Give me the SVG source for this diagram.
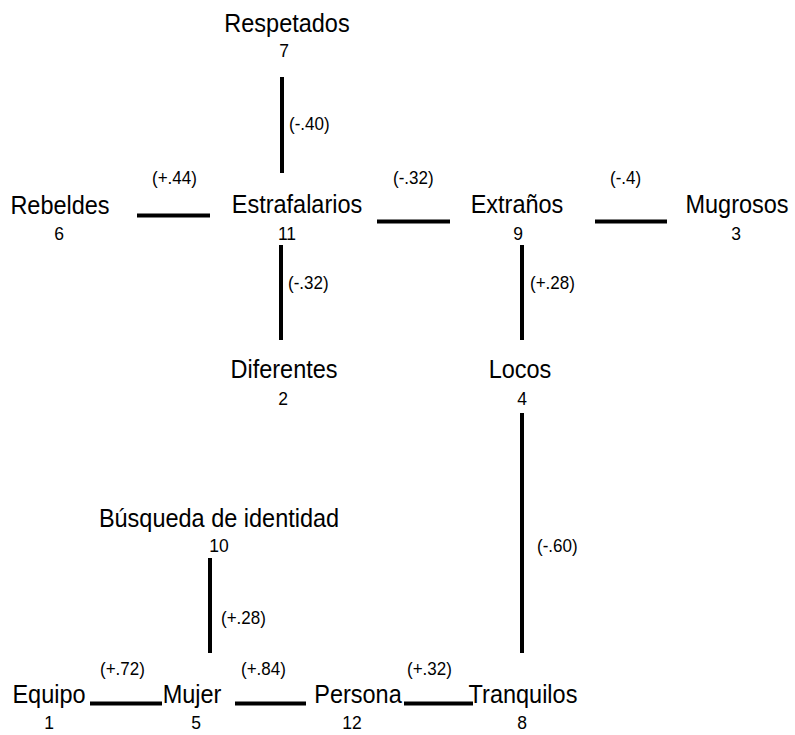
<svg xmlns="http://www.w3.org/2000/svg" width="795" height="735" viewBox="0 0 795 735">
<style>
text{font-family:"Liberation Sans",Arial,sans-serif;fill:#000}
.lbl{font-size:23.5px;text-anchor:middle}
.num{font-size:17.5px;text-anchor:middle}
.co{font-size:17px}
.edge{stroke:#000;stroke-width:4;fill:none}
</style>
<rect width="795" height="735" fill="#fff"/>
<g id="connectors">
<line class="edge" x1="282" y1="77" x2="282" y2="173"/>
<line class="edge" x1="137" y1="215.5" x2="210" y2="215.5"/>
<line class="edge" x1="377" y1="221.5" x2="450" y2="221.5"/>
<line class="edge" x1="595" y1="221.5" x2="667" y2="221.5"/>
<line class="edge" x1="281" y1="245" x2="281" y2="340"/>
<line class="edge" x1="522" y1="245" x2="522" y2="340"/>
<line class="edge" x1="522" y1="413" x2="522" y2="653"/>
<line class="edge" x1="210" y1="558" x2="210" y2="653"/>
<line class="edge" x1="90" y1="703.5" x2="162" y2="703.5"/>
<line class="edge" x1="235" y1="703.5" x2="306" y2="703.5"/>
<line class="edge" x1="404" y1="703.5" x2="473" y2="703.5"/>
<text class="co" transform="translate(289 130) scale(1 1.08)">(-.40)</text>
<text class="co" transform="translate(152 184) scale(1 1.08)">(+.44)</text>
<text class="co" transform="translate(393 184) scale(1 1.08)">(-.32)</text>
<text class="co" transform="translate(610 184) scale(1 1.08)">(-.4)</text>
<text class="co" transform="translate(288 289) scale(1 1.08)">(-.32)</text>
<text class="co" transform="translate(530 289) scale(1 1.08)">(+.28)</text>
<text class="co" transform="translate(537 552) scale(1 1.08)">(-.60)</text>
<text class="co" transform="translate(221 624) scale(1 1.08)">(+.28)</text>
<text class="co" transform="translate(100 675) scale(1 1.08)">(+.72)</text>
<text class="co" transform="translate(241 675) scale(1 1.08)">(+.84)</text>
<text class="co" transform="translate(407 675) scale(1 1.08)">(+.32)</text>
</g>
<g id="n7"><text class="lbl" transform="translate(287 32) scale(1 1.08)">Respetados</text><text class="num" transform="translate(284 57) scale(1 1.1)">7</text></g>
<g id="n6"><text class="lbl" transform="translate(60 214) scale(1 1.08)">Rebeldes</text><text class="num" transform="translate(59 240) scale(1 1.1)">6</text></g>
<g id="n11"><text class="lbl" transform="translate(297 213) scale(1 1.08)">Estrafalarios</text><text class="num" transform="translate(287 240) scale(1 1.1)">11</text></g>
<g id="n9"><text class="lbl" transform="translate(517 213) scale(1 1.08)">Extraños</text><text class="num" transform="translate(518 240) scale(1 1.1)">9</text></g>
<g id="n3"><text class="lbl" transform="translate(737 213) scale(1 1.08)">Mugrosos</text><text class="num" transform="translate(736 240) scale(1 1.1)">3</text></g>
<g id="n2"><text class="lbl" transform="translate(284 378) scale(1 1.08)">Diferentes</text><text class="num" transform="translate(283 405) scale(1 1.1)">2</text></g>
<g id="n4"><text class="lbl" transform="translate(520 378) scale(1 1.08)">Locos</text><text class="num" transform="translate(522 405) scale(1 1.1)">4</text></g>
<g id="n10"><text class="lbl" transform="translate(219 527) scale(1 1.08)">Búsqueda de identidad</text><text class="num" transform="translate(219 552) scale(1 1.1)">10</text></g>
<g id="n1"><text class="lbl" transform="translate(49 703) scale(1 1.08)">Equipo</text><text class="num" transform="translate(49 729) scale(1 1.1)">1</text></g>
<g id="n5"><text class="lbl" transform="translate(192 703) scale(1 1.08)">Mujer</text><text class="num" transform="translate(196 729) scale(1 1.1)">5</text></g>
<g id="n12"><text class="lbl" transform="translate(358 703) scale(1 1.08)">Persona</text><text class="num" transform="translate(352 729) scale(1 1.1)">12</text></g>
<g id="n8"><text class="lbl" transform="translate(523 703) scale(1 1.08)">Tranquilos</text><text class="num" transform="translate(522 729) scale(1 1.1)">8</text></g>
</svg>
